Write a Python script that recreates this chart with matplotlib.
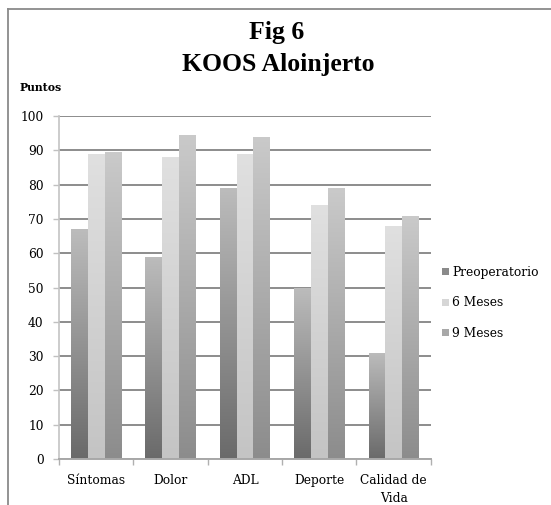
import matplotlib.pyplot as plt
import numpy as np
from matplotlib.colors import LinearSegmentedColormap
from matplotlib.patches import Patch
from matplotlib.lines import Line2D

categories = ['Síntomas', 'Dolor', 'ADL', 'Deporte', 'Calidad de\nVida']
series_names = ['Preoperatorio', '6 Meses', '9 Meses']
preoperatorio = [67, 59, 79, 50, 31]
seis_meses = [89, 88, 89, 74, 68]
nueve_meses = [89.5, 94.5, 94, 79, 71]

# bottom / top colours of each series gradient
grad_colors = [('#6a6a6a', '#bcbcbc'),
               ('#c4c4c4', '#e0e0e0'),
               ('#8c8c8c', '#cacaca')]
legend_colors = ['#8a8a8a', '#d6d6d6', '#a8a8a8']

fig = plt.figure(figsize=(5.51, 5.05), dpi=100)
ax = fig.add_axes([0.107, 0.091, 0.675, 0.679])

serif = 'DejaVu Serif'
fs = 8.8
n = len(categories)
x = np.arange(n)
width = 0.225
values = [preoperatorio, seis_meses, nueve_meses]
gradient = np.linspace(0, 1, 256).reshape(-1, 1)

for i, vals in enumerate(values):
    cmap = LinearSegmentedColormap.from_list('g%d' % i, grad_colors[i])
    offs = (i - 1) * width
    bars = ax.bar(x + offs, vals, width, facecolor='none', edgecolor='none', zorder=3)
    for b in bars:
        x0 = b.get_x()
        h = b.get_height()
        im = ax.imshow(gradient, cmap=cmap, origin='lower', aspect='auto',
                       extent=[x0, x0 + width, 0, h], zorder=2.5)
        im.set_clip_path(b)

ax.set_xlim(-0.5, n - 0.5)
ax.set_ylim(0, 100)
ax.set_yticks(range(0, 101, 10))
ax.yaxis.grid(True, color='#8c8c8c', linewidth=1.4, zorder=0)
ax.set_axisbelow(True)

# category boundaries get the tick marks, centres get the labels
ax.set_xticks(np.arange(-0.5, n, 1.0))
ax.set_xticklabels([])
ax.set_xticks(x, minor=True)
ax.set_xticklabels(categories, minor=True, fontfamily=serif, fontsize=fs,
                   linespacing=1.45)
ax.tick_params(axis='x', which='minor', length=0, pad=11)
ax.tick_params(axis='x', which='major', length=4, color='#b0b0b0', width=1)
ax.tick_params(axis='y', length=4, color='#c0c0c0', width=1, pad=7,
               labelsize=fs)
for lbl in ax.get_yticklabels():
    lbl.set_fontfamily(serif)

for side in ['top', 'right']:
    ax.spines[side].set_visible(False)
ax.spines['left'].set_color('#c4c4c4')
ax.spines['bottom'].set_color('#a8a8a8')
ax.spines['left'].set_linewidth(1.2)
ax.spines['bottom'].set_linewidth(1.4)

handles = [Patch(facecolor=c, edgecolor='none') for c in legend_colors]
fig.legend(handles, series_names, loc='center left',
           bbox_to_anchor=(0.803, 1 - 303 / 505), frameon=False,
           prop={'family': serif, 'size': fs}, handlelength=0.5,
           handleheight=0.5, handletextpad=0.3, labelspacing=1.45,
           borderaxespad=0, borderpad=0)

fig.text(277 / 551, 1 - 32 / 505, 'Fig 6', ha='center', va='center',
         fontfamily='Liberation Serif', fontweight='bold', fontsize=18.5)
fig.text(278 / 551, 1 - 64 / 505, 'KOOS Aloinjerto', ha='center', va='center',
         fontfamily='Liberation Serif', fontweight='bold', fontsize=18.5)
fig.text(20 / 551, 1 - 88 / 505, 'Puntos', ha='left', va='center',
         fontfamily=serif, fontweight='bold', fontsize=7.8)

# chart frame (left and top edges)
fig.add_artist(Line2D([8 / 551, 8 / 551], [0, 1 - 9 / 505],
                      transform=fig.transFigure, color='#8a8a8a', linewidth=1.3))
fig.add_artist(Line2D([8 / 551, 1], [1 - 9 / 505, 1 - 9 / 505],
                      transform=fig.transFigure, color='#8a8a8a', linewidth=1.3))

fig.savefig('out.png', dpi=100)
